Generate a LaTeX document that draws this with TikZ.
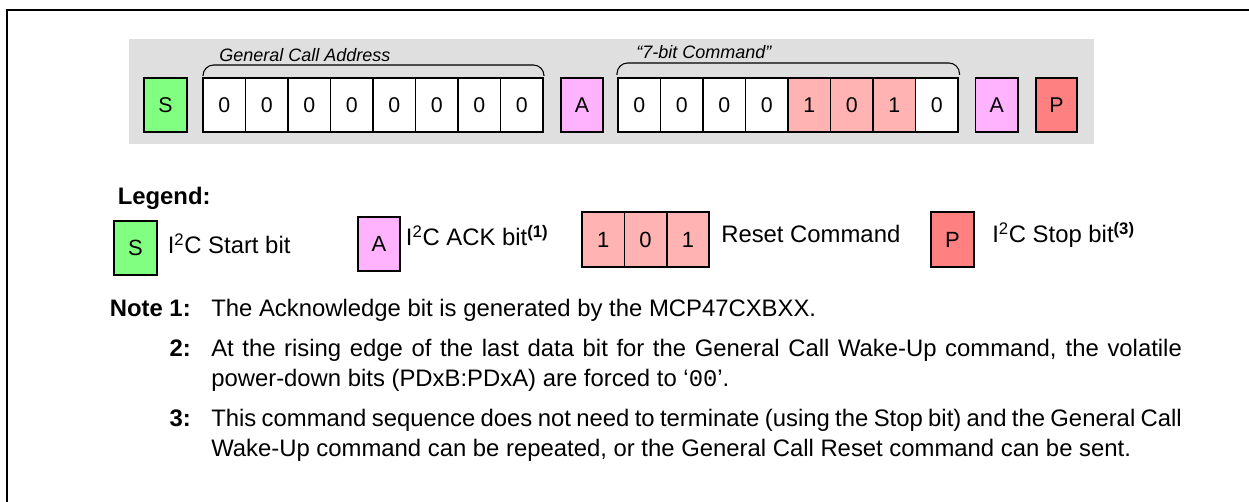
\documentclass[tikz,border=0pt]{standalone}
\usepackage{fontspec}
\setmainfont{Liberation Sans}
\newfontfamily\monofont{Liberation Mono}
\definecolor{bandgray}{RGB}{223,223,223}
\definecolor{startgreen}{RGB}{128,255,128}
\definecolor{ackpink}{RGB}{255,179,255}
\definecolor{resetpink}{RGB}{255,179,179}
\definecolor{stopred}{RGB}{255,128,128}
\begin{document}
\begin{tikzpicture}[x=0.75pt,y=-0.75pt,
  bitbox/.style={draw=black,line width=1.3pt,inner sep=0pt,minimum height=54*0.75pt,minimum width=42.5*0.75pt,font=\fontsize{16}{19}\selectfont},
  legbox/.style={bitbox,font=\fontsize{16.5}{19}\selectfont},
  txt/.style={inner sep=0pt,font=\fontsize{17.9}{22}\selectfont},
  boldtxt/.style={inner sep=0pt,font=\fontsize{17.9}{22}\selectfont\bfseries},
  lbl/.style={inner sep=0pt,font=\fontsize{13.5}{16}\selectfont\itshape},
  brk/.style={line width=0.8pt,rounded corners=8pt}]
\useasboundingbox (0,0) rectangle (1249,502);
% frame (top and left only)
\draw[line width=1.3pt] (7,503) -- (7,10) -- (1250,10);
% gray band
\fill[bandgray] (129,39) rectangle (1094,144);
% top row
\node[bitbox,fill=startgreen,minimum width=43*0.75pt] (S) at (165.5,105) {S};
\foreach \i in {0,...,7}{
  \node[bitbox,fill=white] (ga\i) at ({203+42.5*(\i+0.5)},105) {0};
}
\node[bitbox,fill=ackpink,minimum width=42*0.75pt] (A1) at (582,105) {A};
\foreach \i/\d/\c in {0/0/white,1/0/white,2/0/white,3/0/white,4/1/resetpink,5/0/resetpink,6/1/resetpink,7/0/white}{
  \node[bitbox,fill=\c] (gb\i) at ({618+42.5*(\i+0.5)},105) {\d};
}
\node[bitbox,fill=ackpink] (A2) at (996.75,105) {A};
\node[bitbox,fill=stopred,minimum width=41*0.75pt] (P) at (1056.5,105) {P};
% brackets and labels
\draw[brk] (203,76) -- (203,65) -- (544,65) -- (544,76);
\draw[brk] (617,75) -- (617,63) -- (959.5,63) -- (959.5,75);
\node[lbl,anchor=base west] (gcalabel) at (219,61.5) {General Call Address};
\node[lbl,anchor=base west] (cmdlabel) at (636,58.3) {“7-bit Command”};
% legend
\node[boldtxt,anchor=base west] (legend) at (117.5,205) {Legend:};
\node[legbox,fill=startgreen,minimum width=43*0.75pt] (LS) at (135.5,248) {S};
\node[txt,anchor=base west] (LStxt) at (167.5,254) {I\textsuperscript{2}C Start bit};
\node[legbox,fill=ackpink,minimum width=42*0.75pt] (LA) at (379,244) {A};
\node[txt,anchor=base west] (LAtxt) at (405.7,246) {I\textsuperscript{2}C ACK bit\textsuperscript{\bfseries(1)}};
\foreach \i/\d in {0/1,1/0,2/1}{
  \node[legbox,fill=resetpink,minimum width=42.4*0.75pt,minimum height=55*0.75pt] (LR\i) at ({582+42.4*(\i+0.5)},239.5) {\d};
}
\node[txt,anchor=base west] (LRtxt) at (721,243) {Reset Command};
\node[legbox,fill=stopred,minimum width=43*0.75pt,minimum height=55*0.75pt] (LP) at (952.5,239.5) {P};
\node[txt,anchor=base west] (LPtxt) at (992,243) {I\textsuperscript{2}C Stop bit\textsuperscript{\bfseries(3)}};
% notes
\node[boldtxt,anchor=base east] (n1h) at (191,316.7) {Note 1:};
\node[txt,anchor=base west] (n1) at (211,316.7) {The Acknowledge bit is generated by the MCP47CXBXX.};
\node[boldtxt,anchor=base east] (n2h) at (191,356) {2:};
\node[txt,anchor=base west] (n2a) at (211,356) {\makebox[728pt][s]{At the rising edge of the last data bit for the General Call Wake-Up command, the volatile}};
\node[txt,anchor=base west] (n2b) at (211,386.5) {power-down bits (PDxB:PDxA) are forced to ‘{\monofont 00}’.};
\node[boldtxt,anchor=base east] (n3h) at (191,426.7) {3:};
\node[txt,anchor=base west] (n3a) at (211,426.7) {\makebox[728pt][s]{This command sequence does not need to terminate (using the Stop bit) and the General Call}};
\node[txt,anchor=base west] (n3b) at (211,456) {Wake-Up command can be repeated, or the General Call Reset command can be sent.};
\end{tikzpicture}
\end{document}
